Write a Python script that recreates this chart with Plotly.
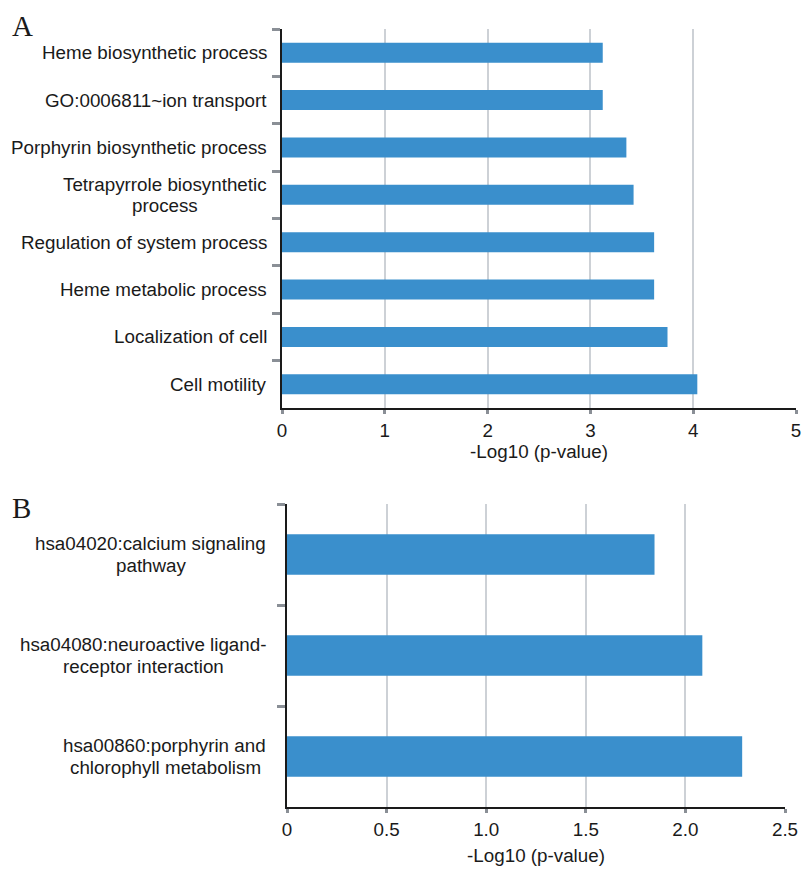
import plotly.graph_objects as go

# ---- Data ----
go_terms = [
    "Heme biosynthetic process",
    "GO:0006811~ion transport",
    "Porphyrin biosynthetic process",
    "Tetrapyrrole biosynthetic<br>process",
    "Regulation of system process",
    "Heme metabolic process",
    "Localization of cell",
    "Cell motility",
]
go_values = [3.12, 3.12, 3.35, 3.42, 3.62, 3.62, 3.75, 4.04]
go_ticks = [0, 1, 2, 3, 4, 5]
go_ticktext = ["0", "1", "2", "3", "4", "5"]

kegg_terms = [
    "hsa04020:calcium signaling<br>pathway",
    "hsa04080:neuroactive ligand-<br>receptor interaction",
    "hsa00860:porphyrin and<br>chlorophyll metabolism",
]
kegg_values = [1.845, 2.085, 2.285]
kegg_ticks = [0, 0.5, 1.0, 1.5, 2.0, 2.5]
kegg_ticktext = ["0", "0.5", "1.0", "1.5", "2.0", "2.5"]

x_title = "-Log10 (p-value)"

# ---- Style ----
W, H = 802, 869
BAR = "#3a8fcc"
FONT = "Liberation Sans, Arial, sans-serif"
TXT = "#1a1a1a"
FS = 18.8

# Arial / Liberation Sans advance widths (per 1000 em) used to centre wrapped lines
_AW = {" ": 278, "-": 333, ":": 278, "~": 584, "T": 611, "a": 556, "b": 556,
       "c": 500, "d": 556, "e": 556, "g": 556, "h": 556, "i": 222, "l": 222,
       "m": 833, "n": 556, "o": 556, "p": 556, "r": 333, "s": 500, "t": 278,
       "u": 556, "v": 500, "y": 500, "f": 278, "k": 500, "w": 722, "x": 500}

def text_w(s, size):
    return sum(_AW.get(ch, 556) for ch in s) * size / 1000.0

fig = go.Figure()
fig.add_trace(go.Bar(x=go_values, y=go_terms, orientation="h",
                     marker=dict(color=BAR, line=dict(width=0)),
                     width=0.42, xaxis="x", yaxis="y", showlegend=False))
fig.add_trace(go.Bar(x=kegg_values, y=kegg_terms, orientation="h",
                     marker=dict(color=BAR, line=dict(width=0)),
                     width=0.40, xaxis="x2", yaxis="y2", showlegend=False))

def px_x(p):
    return p / W

def px_y(p):
    return 1 - p / H

common_x = dict(showgrid=True, gridcolor="#cdd1d6", gridwidth=1.5,
                showline=True, linecolor="#1a1a1a", linewidth=2,
                ticks="outside", ticklen=4, tickwidth=3, tickcolor="#8a8f96",
                zeroline=False, automargin=False,
                tickfont=dict(family=FONT, size=FS, color=TXT),
                title=dict(text=x_title, font=dict(family=FONT, size=FS, color=TXT)),
                fixedrange=True)
common_y = dict(type="category", autorange="reversed", showgrid=False,
                showline=True, linecolor="#1a1a1a", linewidth=2,
                ticks="outside", tickson="boundaries", ticklen=8, tickwidth=3,
                tickcolor="#8a8f96", showticklabels=False, zeroline=False,
                automargin=False, fixedrange=True)

fig.update_layout(
    width=W, height=H, autosize=False,
    margin=dict(l=0, r=0, t=0, b=0),
    paper_bgcolor="white", plot_bgcolor="white",
    bargap=0.5,
    xaxis=dict(**common_x, domain=[px_x(282), px_x(796)], range=[0, 5],
               tickvals=go_ticks, ticktext=go_ticktext, anchor="y",
               ticklabelstandoff=0),
    yaxis=dict(**common_y, domain=[px_y(408), px_y(29)], anchor="x"),
    xaxis2=dict(**common_x, domain=[px_x(287), px_x(785)], range=[0, 2.5],
                tickvals=kegg_ticks, ticktext=kegg_ticktext, anchor="y2",
                ticklabelstandoff=0),
    yaxis2=dict(**common_y, domain=[px_y(807), px_y(504)], anchor="x2"),
)
fig.layout.xaxis.title.standoff = 4
fig.layout.xaxis2.title.standoff = 10

annotations = []

def add_labels(terms, xref, yref, gap, half):
    for t in terms:
        lines = t.split("<br>")
        font = dict(family=FONT, size=FS, color=TXT)
        if len(lines) == 1:
            annotations.append(dict(text=t, x=0, xref=xref, y=t, yref=yref,
                                    xanchor="right", yanchor="middle", xshift=-gap,
                                    borderpad=0, showarrow=False, font=font))
        else:
            w1 = text_w(lines[0], FS)
            annotations.append(dict(text=lines[0], x=0, xref=xref, y=t, yref=yref,
                                    xanchor="right", yanchor="middle", xshift=-gap,
                                    yshift=half, borderpad=0, showarrow=False,
                                    font=font))
            annotations.append(dict(text=lines[1], x=0, xref=xref, y=t, yref=yref,
                                    xanchor="center", yanchor="middle",
                                    xshift=-gap - w1 / 2, yshift=-half,
                                    borderpad=0, showarrow=False, font=font))

add_labels(go_terms, "x domain", "y", 14, 10.5)
add_labels(kegg_terms, "x2 domain", "y2", 20, 11)

annotations.append(dict(text="A", x=px_x(10), y=px_y(8), xref="paper", yref="paper",
                        xanchor="left", yanchor="top", showarrow=False,
                        font=dict(family="Liberation Serif, Times New Roman, serif",
                                  size=29, color=TXT)))
annotations.append(dict(text="B", x=px_x(10), y=px_y(490), xref="paper", yref="paper",
                        xanchor="left", yanchor="top", showarrow=False,
                        font=dict(family="Liberation Serif, Times New Roman, serif",
                                  size=29, color=TXT)))
fig.update_layout(annotations=annotations)

fig.write_html("out.html",
               config={"displayModeBar": False, "responsive": False},
               post_script="document.body.style.margin='0';document.body.style.overflow='hidden';")
